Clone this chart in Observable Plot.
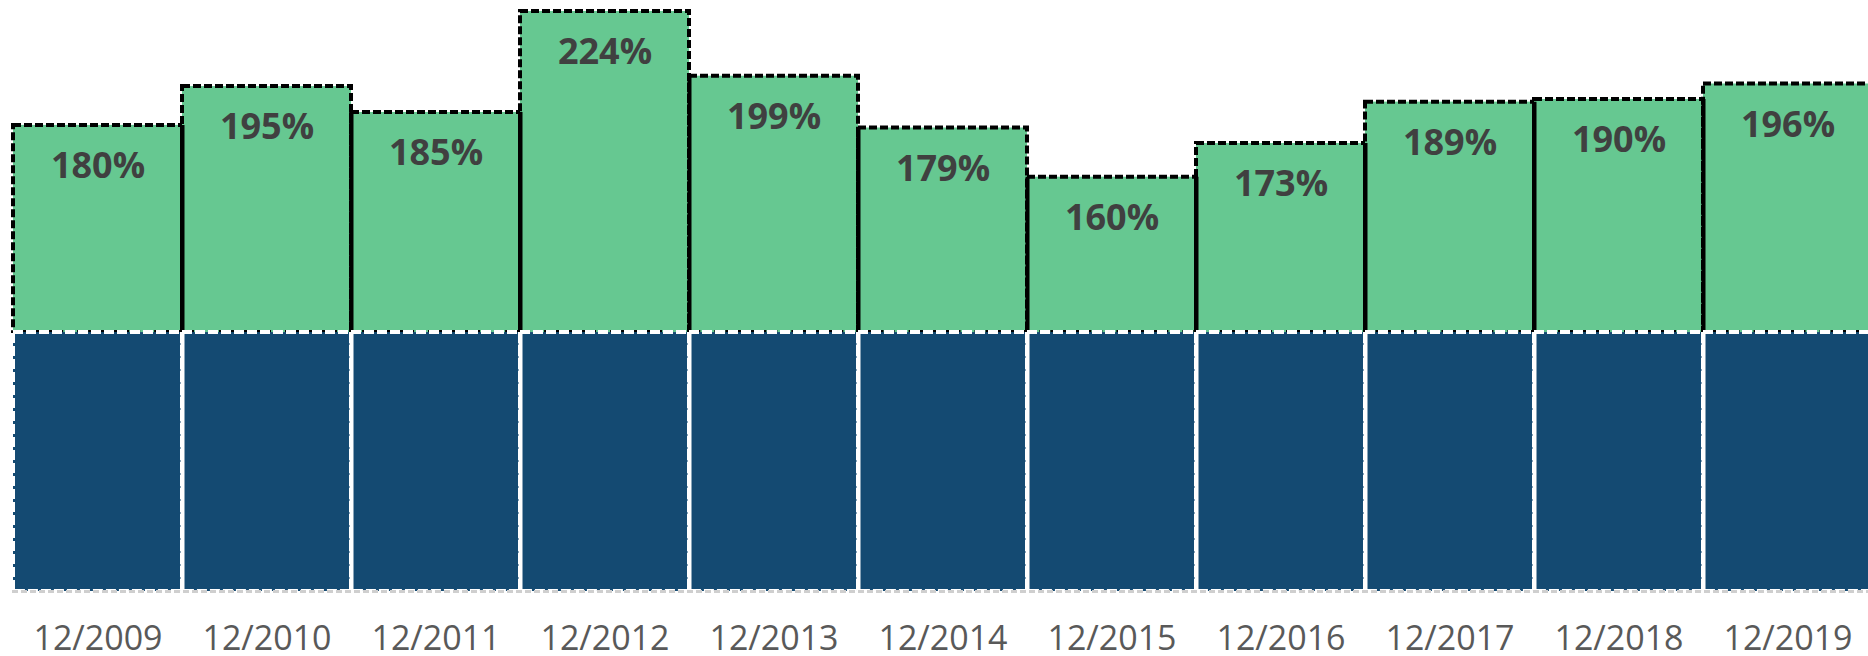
<!DOCTYPE html>
<html>
<head>
<meta charset="utf-8">
<script src="https://cdn.jsdelivr.net/npm/d3@7"></script>
<script src="https://cdn.jsdelivr.net/npm/@observablehq/plot@0.6"></script>
<style>
  html, body { margin: 0; padding: 0; background: #fff; }
  #chart svg { display: block; }
</style>
</head>
<body>
<div id="chart"></div>
<script>
const categories = ["12/2009","12/2010","12/2011","12/2012","12/2013","12/2014","12/2015","12/2016","12/2017","12/2018","12/2019"];
const totals = [180, 195, 185, 224, 199, 179, 160, 173, 189, 190, 196];
const baseValue = 100;

const rows = categories.map((c, i) => ({cat: c, base: baseValue, total: totals[i], label: totals[i] + "%"}));
// boundaries between adjacent bars (at the left edge of each bar after the first)
const seps = rows.slice(1).map((d, i) => ({cat: d.cat, base: baseValue, top: Math.min(d.total, rows[i].total)}));

// shift a rule from the band centre to the band's left edge, using the x scale itself
const toBandStart = (index, scales, values, dimensions, context, next) => {
  const half = scales.x.bandwidth ? scales.x.bandwidth() / 2 : 0;
  return next(index, scales, {...values, x: values.x.map(v => v - half)}, dimensions, context);
};

const chart = Plot.plot({
  width: 1868,
  height: 656,
  marginTop: 11,
  marginBottom: 65,
  marginLeft: 12,
  marginRight: 0,
  style: {background: "#fff", fontFamily: "'Open Sans', sans-serif"},
  x: {domain: categories, range: [12, 1872], padding: 0, label: null},
  y: {domain: [0, 224], axis: null},
  marks: [
    Plot.barY(rows, {x: "cat", y1: "base", y2: "total", fill: "#66C891", stroke: "#000", strokeWidth: 4, strokeDasharray: "8,3"}),
    Plot.ruleX(seps, {x: "cat", y1: "base", y2: "top", stroke: "#000", strokeWidth: 4, render: toBandStart}),
    Plot.barY(rows, {x: "cat", y1: 0, y2: "base", fill: "#144A72", stroke: "#fff", strokeWidth: 4, strokeDasharray: "10,3"}),
    Plot.ruleX(seps, {x: "cat", y1: 0, y2: "base", stroke: "#fff", strokeWidth: 4, render: toBandStart}),
    Plot.ruleY([0], {stroke: "#cfcfcf", strokeWidth: 3, strokeDasharray: "6,3"}),
    Plot.text(rows, {x: "cat", y: "total", text: "label", dy: 41, lineAnchor: "middle", fill: "#404040", fontSize: 36, fontWeight: "bold"}),
    Plot.axisX({tickSize: 0, tickPadding: 34, fontSize: 34, color: "#595959", label: null})
  ]
});
document.getElementById("chart").appendChild(chart);
</script>
</body>
</html>
